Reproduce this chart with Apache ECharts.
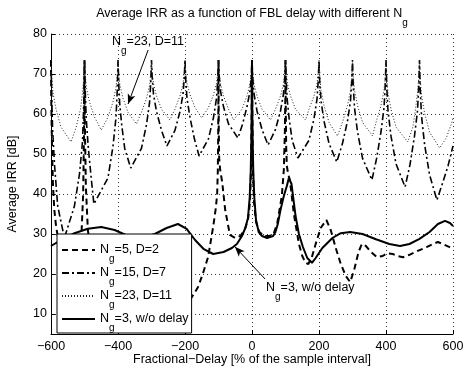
<!DOCTYPE html>
<html><head><meta charset="utf-8">
<script src="https://cdn.jsdelivr.net/npm/echarts@6/dist/echarts.min.js"></script>
<style>html,body{margin:0;padding:0;background:#fff}#c{width:470px;height:367px}</style>
</head><body><div id="c"></div>
<script>
// ---- data ----
const xTickValues = [-600, -400, -200, 0, 200, 400, 600];
const xTickLabels = ['\u2212600', '\u2212400', '\u2212200', '0', '200', '400', '600'];
const yTickValues = [10, 20, 30, 40, 50, 60, 70, 80];
const yTickLabels = ['10', '20', '30', '40', '50', '60', '70', '80'];
const seriesNames = ['Ng=5, D=2', 'Ng=15, D=7', 'Ng=23, D=11', 'Ng=3, w/o delay'];

const dashedX = [-600,-599,-597,-594,-590,-585,-578,-565,-550,-535,-520,-510,-504,-501,-500,-499,-496,-490,-480,-465,-440,-400,-350,-300,-260,-230,-205,-185,-170,-161,-146,-131,-116,-108,-104,-102,-100.8,-100,-99.2,-98,-95,-89,-80,-66,-50,-35,-22,-12,-6,-3,-1,0,1,3,6,12,22,35,50,63,75,89,95,98,99.3,100,100.7,102,104,108,113,125,140,150,160,168,178,190,205,222,235,250,265,280,293,305,318,328,340,355,373,390,403,420,435,451,470,490,521,540,555,570,590,600];
const dashedY = [73.5,62,52,42,36,32,28.5,24,20,19,22,28,40,58,73.5,58,42,31,25,21,19,20,22,20,16,13,12,13.5,15.5,16.75,20.25,24.25,31.75,36.5,40,46,56,73.5,56,49,46,43,36,29.8,29,29.5,31,33.5,38,46,60,73.5,60,46,38,33,30.5,29.5,29.5,29.75,32.5,39.5,46,55,63,73.5,62,52,47,45,43.5,35,27.5,24.5,22.8,22.5,24,27.5,31.5,33.5,31,26.5,22.5,19.5,18,21,25.5,27.5,27,25.5,24.2,24.5,25.2,25,24.5,24.2,24.8,25.6,26.7,27.5,28,27.5,26.7,26.2];

const dashDotX = [-600,-598,-595,-589,-580,-560, -530,-515,-506,-502,-500,-498,-495,-489,-480,-472, -430,-415,-406,-402,-400,-398,-395,-389,-380,-362, -330,-315,-306,-302,-300,-298,-294,-285,-270,-254, -230,-215,-206,-202,-200,-198,-194,-185,-172,-158, -130,-115,-106,-102,-100,-98,-94,-85,-70,-42, -28,-15,-6,-2,0,2,6,15,30,48, 70,85,94,98,100,102,105,111,120,137, 170,185,194,198,200,202,206,215,230,253, 270,285,294,298,300,302,306,315,330,358, 372,385,394,398,400,402,406,415,430,457, 472,485,494,498,500,502,506,515,530,552, 570,585,600];
const dashDotY = [73.5,64.6,55.7,46.8,37,29, 37,45,53,63,73.5,66.3,59.1,51.9,44,37.5, 44,51.9,59.1,66.3,73.5,68.1,62.7,57.3,51.4,46.5, 51.4,57.3,62.7,68.1,73.5,69.2,64.9,60.6,55.9,52, 55.9,60.6,64.9,69.2,73.5,68.7,63.9,59.1,53.8,49.5, 53.8,59.1,63.9,68.7,73.5,69.6,65.7,61.8,57.5,54, 57.5,61.8,65.7,69.6,73.5,69.3,65,60.75,56.1,52.25, 56.1,60.75,65,69.3,73.5,68.6,63.7,58.8,53.4,49, 53.4,58.8,63.7,68.6,73.5,68.4,63.3,58.2,52.6,48, 52.6,58.2,63.3,68.4,73.5,67.5,61.5,55.5,48.9,43.5, 48.9,55.5,61.5,67.5,73.5,67.2,60.8,54.45,47.5,41.75, 47.5,54.45,60.8,67.2,73.5,66.5,59.5,52.5,44.8,38.5, 43,47,52];

const dottedX = [-600,-598,-594,-585,-570,-540, -525,-512,-506,-502,-500,-498,-494,-485,-470,-450, -430,-415,-406,-402,-400,-398,-394,-385,-370,-345, -330,-315,-306,-302,-300,-298,-294,-285,-270,-245, -230,-215,-206,-202,-200,-198,-194,-185,-170,-150, -130,-115,-106,-102,-100,-98,-94,-85,-70,-55, -30,-15,-6,-2,0,2,6,15,30,55, 70,85,94,98,100,102,106,115,130,160, 170,185,194,198,200,202,206,215,230,255, 270,285,294,298,300,302,306,315,330,360, 370,385,394,398,400,402,406,415,430,465, 480,488,494,498,500,502,506,515,530,560, 580,595,600];
const dottedY = [73.5,69.4,65.3,61.2,56.7,53, 56.7,61.2,65.3,69.4,73.5,70,66.5,63,59.2,56, 59.2,63,66.5,70,73.5,70.3,67.1,63.9,60.4,57.5, 60.4,63.9,67.1,70.3,73.5,70.5,67.5,64.5,61.2,58.5, 61.2,64.5,67.5,70.5,73.5,70.6,67.7,64.8,61.6,59, 61.6,64.8,67.7,70.6,73.5,70.5,67.5,64.5,61.2,58.5, 61.2,64.5,67.5,70.5,73.5,70.5,67.5,64.5,61.2,58.5, 61.2,64.5,67.5,70.5,73.5,70.5,67.5,64.5,61.2,58.5, 61.2,64.5,67.5,70.5,73.5,69.7,65.9,62.1,57.9,54.5, 57.9,62.1,65.9,69.7,73.5,69.7,65.9,62.1,57.9,54.5, 57.9,62.1,65.9,69.7,73.5,69.4,65.3,61.2,56.7,53, 56.7,61.2,65.3,69.4,73.5,69.1,64.7,60.3,55.5,51.5, 54,57.5,59];

const solidX = [-600,-570,-530,-490,-450,-410,-370,-330,-290,-255, -221,-195,-170,-145,-116,-85,-60,-45,-30,-20, -12,-7,-4,-2,-1,0,1,2,4,7, 12,20,30,45,63,70,77,85,95,104, 110,113,118,124,130,140,152,165,179,190, 210,240,265,293,330,370,410,442,470,500, 530,555,576,591,600];
const solidY = [27,28.5,30.2,31.3,31.75,31,29.5,29,30,31.5, 32.5,31.3,28.5,26.3,25,25.5,26.5,27.5,29.5,31.5, 34,39,45,53,60,73.5,60,53,45,39, 33.5,30.5,29.5,29,29.5,30.5,32.5,36,39.5,42, 44,44.25,42.5,38.5,34.5,30,26.75,24,22.8,24, 26.5,29,30.2,30.5,30,28.7,27.5,27,27.5,28.8, 30.5,32.5,33.3,32.75,32];

// annotation arrows (data coordinates: [x, y] start -> tip)
const arrow23 = [[-310, 76], [-370, 62.5]];
const arrow3 = [[39, 18.75], [-51, 26.8]];
// --------------------------------------

const FONT = '"Liberation Sans", Arial, Helvetica, sans-serif';
const zip = (xs, ys) => xs.map((x, i) => [x, ys[i]]);
const rich = {
  n: { fontSize: 12.5, lineHeight: 14, fontFamily: FONT, color: '#000' },
  s: { fontSize: 10, lineHeight: 14, padding: [18, 0, 0, 0], fontFamily: FONT, color: '#000' }
};
function subLabel(name) {
  return '{n|N}{s|g}{n|' + name.slice(2) + '}';
}

const chart = echarts.init(document.getElementById('c'), null, { renderer: 'canvas' });
const common = { type: 'line', symbol: 'none', smooth: false, animation: false, z: 2, itemStyle: { color: '#000' } };

chart.setOption({
  animation: false,
  backgroundColor: '#fff',
  grid: { left: 51, right: 17, top: 34, bottom: 33, containLabel: false, outerBoundsMode: 'none' },
  xAxis: {
    type: 'value', min: -600, max: 600, interval: 200,
    axisLine: { show: true, onZero: false, lineStyle: { color: '#000', width: 1 } },
    axisTick: { show: true, inside: true, length: 4, lineStyle: { color: '#000' } },
    axisLabel: { color: '#000', fontSize: 12.5, fontFamily: FONT, margin: 6,
      formatter: v => { const i = xTickValues.indexOf(v); return i >= 0 ? xTickLabels[i] : ''; } },
    splitLine: { show: true, lineStyle: { color: '#333', width: 1, type: [1, 3] } },
    name: 'Fractional\u2212Delay [% of the sample interval]', nameLocation: 'middle', nameGap: 19,
    nameMoveOverlap: false,
    nameTextStyle: { color: '#000', fontSize: 12.5, fontFamily: FONT }
  },
  yAxis: {
    type: 'value', min: 5, max: 80,
    axisLine: { show: true, onZero: false, lineStyle: { color: '#000', width: 1 } },
    axisTick: { show: true, inside: true, length: 4, lineStyle: { color: '#000' }, customValues: yTickValues },
    axisLabel: { color: '#000', fontSize: 12.5, fontFamily: FONT, margin: 4, customValues: yTickValues,
      formatter: v => { const i = yTickValues.indexOf(v); return i >= 0 ? yTickLabels[i] : ''; } },
    splitLine: { show: true, lineStyle: { color: '#333', width: 1, type: [1, 3] } },
    name: 'Average IRR [dB]', nameLocation: 'middle', nameGap: 32,
    nameTextStyle: { color: '#000', fontSize: 12.5, fontFamily: FONT }
  },
  legend: {
    orient: 'vertical', left: 57, top: 234,
    padding: [2, 3, 0, 4], itemGap: -5, itemWidth: 33, itemHeight: 14,
    backgroundColor: '#fff', borderColor: '#000', borderWidth: 1, borderRadius: 0,
    data: seriesNames, selectedMode: false,
    itemStyle: { opacity: 0, color: 'rgba(0,0,0,0)', borderWidth: 0 },
    formatter: subLabel,
    textStyle: { color: '#000', fontSize: 12.5, fontFamily: FONT, rich: rich }
  },
  graphic: [
    { type: 'text', x: 252, y: 14, z: 100,
      style: { text: '{n|Average IRR as a function of FBL delay with different N}{s|g}', rich: rich,
        align: 'center', verticalAlign: 'middle' } },
    { type: 'text', x: 112, y: 42, z: 100,
      style: { text: subLabel('Ng=23, D=11'), rich: rich, align: 'left', verticalAlign: 'middle' } },
    { type: 'text', x: 266, y: 288, z: 100,
      style: { text: subLabel('Ng=3, w/o delay'), rich: rich, align: 'left', verticalAlign: 'middle' } }
  ],
  series: [
    Object.assign({}, common, { name: seriesNames[0], data: zip(dashedX, dashedY),
      lineStyle: { color: '#000', width: 2, type: [6, 4] } }),
    Object.assign({}, common, { name: seriesNames[1], data: zip(dashDotX, dashDotY),
      lineStyle: { color: '#000', width: 1.6, type: [7, 3, 2, 3] } }),
    Object.assign({}, common, { name: seriesNames[2], data: zip(dottedX, dottedY),
      lineStyle: { color: '#222', width: 1, type: [1, 2] } }),
    Object.assign({}, common, { name: seriesNames[3], data: zip(solidX, solidY),
      lineStyle: { color: '#000', width: 2, type: 'solid' },
      markLine: { silent: true, animation: false, symbol: ['none', 'arrow'], symbolSize: [6, 10],
        label: { show: false }, lineStyle: { color: '#000', width: 1, type: 'solid' },
        data: [
          [{ coord: arrow23[0] }, { coord: arrow23[1] }],
          [{ coord: arrow3[0] }, { coord: arrow3[1] }]
        ] } })
  ]
});
</script>
</body></html>
